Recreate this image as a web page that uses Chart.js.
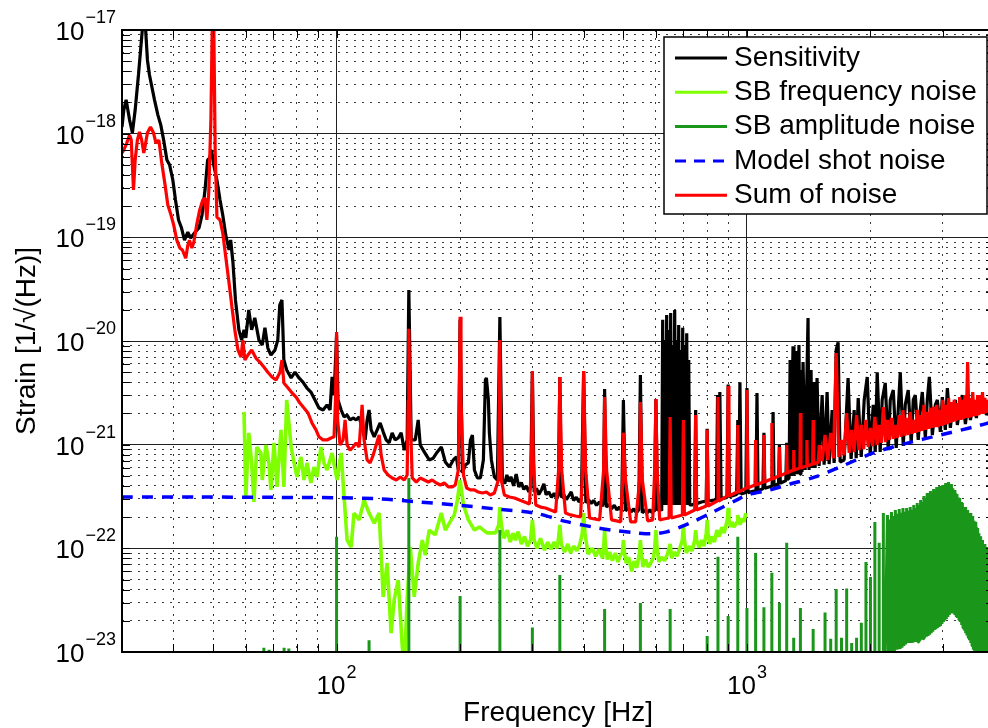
<!DOCTYPE html>
<html><head><meta charset="utf-8">
<script src="https://cdn.jsdelivr.net/npm/chart.js@4.4.1/dist/chart.umd.min.js"></script>
<style>
html,body{margin:0;padding:0;background:#fff;overflow:hidden;width:988px;height:728px}
#wrap{position:relative;width:1000px;height:728px}
canvas{display:block}
</style></head>
<body><div id="wrap"><canvas id="c" width="1000" height="728"></canvas></div>
<script>
const FONT = '"Liberation Sans", Arial, Helvetica, sans-serif';

// ---------- series names / colours ----------
const seriesNames = ['Sensitivity', 'SB frequency noise', 'SB amplitude noise', 'Model shot noise', 'Sum of noise'];
const seriesColors = ['#000000', '#80ff00', '#1a961a', '#0000ff', '#ff0000'];

// ---------- axis ticks ----------
const xGridValues = [30,40,50,60,70,80,90,100,200,300,400,500,600,700,800,900,1000,2000,3000,4000];
const yGridValues = [1e-23,2e-23,3e-23,4e-23,5e-23,6e-23,7e-23,8e-23,9e-23,
  1e-22,2e-22,3e-22,4e-22,5e-22,6e-22,7e-22,8e-22,9e-22,
  1e-21,2e-21,3e-21,4e-21,5e-21,6e-21,7e-21,8e-21,9e-21,
  1e-20,2e-20,3e-20,4e-20,5e-20,6e-20,7e-20,8e-20,9e-20,
  1e-19,2e-19,3e-19,4e-19,5e-19,6e-19,7e-19,8e-19,9e-19,
  1e-18,2e-18,3e-18,4e-18,5e-18,6e-18,7e-18,8e-18,9e-18,1e-17];
const xLabelValues = [100, 1000];
const xLabelExponents = ['2', '3'];
const yLabelValues = [1e-17, 1e-18, 1e-19, 1e-20, 1e-21, 1e-22, 1e-23];
const yLabelExponents = ['\u221217', '\u221218', '\u221219', '\u221220', '\u221221', '\u221222', '\u221223'];

// ---------- data: [frequency Hz, strain 1/sqrt(Hz)] ----------
const sensitivity = [
[30,1.16e-18],[30.3,1.69e-18],[30.7,2.12e-18],[31.3,1.36e-18],[31.8,1.02e-18],[32.3,1.69e-18],[32.9,3.68e-18],[33.3,6.4e-18],[33.7,1.12e-17],[34.2,1.12e-17],[34.6,5.14e-18],[35,3.68e-18],[35.4,2.95e-18],[36,2.12e-18],[36.7,1.51e-18],[37.3,1.21e-18],[37.9,8.67e-19],[38.6,5.57e-19],[39.2,4.98e-19],[39.9,3.57e-19],[40.5,2.29e-19],[41.2,1.47e-19],[41.9,1.23e-19],[42.6,9.4e-20],[43.4,1.12e-19],[44.1,9.85e-20],[45.2,1.12e-19],[46.2,1.23e-19],[47,1.64e-19],[47.8,2.86e-19],[48.5,5.57e-19],[49.1,5.82e-19],[49.6,6.95e-19],[50.2,4.98e-19],[51.1,3.57e-19],[52,2.29e-19],[52.8,1.64e-19],[53.7,1.05e-19],[54.7,7.55e-20],[55.2,9.42e-20],[55.9,5.78e-20],[56.7,2.49e-20],[57.8,1.28e-20],[58.7,1.02e-20],[59.5,1.28e-20],[60.1,1.07e-20],[61.1,1.99e-20],[62.1,1.28e-20],[63.2,1.67e-20],[64.7,1.02e-20],[65.9,9.15e-21],[66.9,1.34e-20],[68,8.55e-21],[69.2,7.32e-21],[70.8,8.2e-21],[71.9,1.02e-20],[72.7,2.22e-20],[73.6,2.49e-20],[74.4,6.55e-21],[75.6,5.25e-21],[77.5,4.4e-21],[79.2,5e-21],[81,4.4e-21],[82.8,4.02e-21],[84.7,3.52e-21],[86.6,3.22e-21],[88.6,2.7e-21],[90.6,2.26e-21],[92.7,2.16e-21],[94.8,2.42e-21],[96.4,2.16e-21],[97.5,4.5e-21],[98.6,3e-21],[100,1.14e-20],[100.8,2.7e-21],[102.6,2.16e-21],[104.3,1.85e-21],[106.1,1.93e-21],[107.9,1.73e-21],[109.7,1.81e-21],[111.6,1.73e-21],[113.5,1.85e-21],[115.4,1.45e-21],[117.4,1.11e-21],[118.7,1.73e-21],[120,2.16e-21],[121.4,1.39e-21],[123.5,1.19e-21],[125.6,1.39e-21],[127.7,1.62e-21],[129.9,1.33e-21],[132.1,1.11e-21],[134.3,1.04e-21],[136.6,1.3e-21],[138.9,1.11e-21],[141.3,1.16e-21],[143.7,1.3e-21],[146.2,8.86e-22],[148.6,1.11e-21],[150,3.1e-20],[152,1.11e-21],[155.5,1.11e-21],[158.1,1.73e-21],[159.9,9.93e-22],[162.6,8.86e-22],[165.4,7.93e-22],[168.2,7.12e-22],[172,7.4e-22],[176,8.5e-22],[180,9.5e-22],[184.1,6.81e-22],[188.3,6.09e-22],[192.5,7.12e-22],[195.9,7.61e-22],[198,5.7e-22],[200,1.6e-20],[202.6,5.33e-22],[206,6.4e-22],[209.5,6.66e-22],[212,1.11e-21],[214.3,1.24e-21],[216.7,5.7e-22],[220.4,4.77e-22],[224.1,4.77e-22],[227.9,7.12e-22],[230.5,4.21e-21],[231.8,4.4e-21],[234.4,2.7e-21],[235.7,1.3e-21],[238.4,7.12e-22],[242.4,4.88e-22],[246.5,4.56e-22],[250,1.7e-20],
[253.5,4.56e-22],[257,4.2e-22],[260,5.1e-22],[263,4.4e-22],[266,4.9e-22],[270,4e-22],[274,5.2e-22],[278,3.9e-22],[282,4.3e-22],[286,3.7e-22],[290,4e-22],[294,3.5e-22],[297,3.9e-22],[300,5e-21],[303,3.5e-22],[307,3.8e-22],[311,3.3e-22],[316,3.7e-22],[320,4.2e-22],[324,3.3e-22],[329,3.5e-22],[334,3.1e-22],[339,3.4e-22],[344,3e-22],[347,3.3e-22],[350,4.5e-21],[353,3.1e-22],[358,3.3e-22],[363,2.95e-22],[368,3.2e-22],[373,3.5e-22],[378,2.9e-22],[384,3.1e-22],[390,2.8e-22],[395,3e-22],[400,5.14e-21],[405,2.75e-22],[411,2.95e-22],[417,2.7e-22],[423,2.9e-22],[430,2.6e-22],[437,2.8e-22],[444,2.55e-22],[447,2.75e-22],[450,3.45e-21],[454,2.5e-22],[461,2.65e-22],[468,2.4e-22],[475,2.6e-22],[482,2.35e-22],[489,2.5e-22],[495,2.3e-22],[500,2.7e-21],[506,2.3e-22],[514,2.45e-22],[522,2.25e-22],[530,2.4e-22],[538,2.2e-22],[545,2.35e-22],[550,4.7e-21],[556,2.2e-22],[564,2.35e-22],[572,2.2e-22],[580,2.35e-22],[588,2.2e-22],[595,2.35e-22],[600,2.76e-21],[606,2.3e-22],[613,2.45e-22],[619.8,2.3e-22],
[623.3,1.6e-20],[626.8,2.62e-22],[630.3,1.02e-20],[633.9,2.62e-22],[637.4,1.78e-20],[641,2.62e-22],[644.6,1.28e-20],[648.2,2.62e-22],[651.9,1.86e-20],[655.6,2.62e-22],[659.3,9.15e-21],[663,2.62e-22],[666.7,1.99e-20],[670.5,2.62e-22],[674.3,1.02e-20],[678.1,2.62e-22],[681.9,1.43e-20],[685.7,2.62e-22],[689.6,8.2e-21],[693.5,2.62e-22],[697.4,1.34e-20],[701.4,2.62e-22],[705.3,9.15e-21],[709.3,2.62e-22],[713.3,1.19e-20],[717.4,2.62e-22],[721.4,6.55e-21],[725.5,2.62e-22],
[733.7,2.62e-22],[746,2.7e-22],[750,2.16e-21],[754,2.7e-22],[775,2.8e-22],[796,2.86e-22],[800,1.42e-21],[804,2.86e-22],[825,2.9e-22],[843,2.93e-22],[848,3.01e-21],[853,2.96e-22],[859,3.22e-21],[865,3e-22],[894,3.1e-22],[900,3.8e-21],[906,3.15e-22],[944,3.3e-22],[950,1.73e-21],[955,3.3e-22],[961.4,4e-21],[968,3.34e-22],[994,3.45e-22],[1000,3.52e-21],[1006,3.45e-22],[1052,3.6e-22],[1058,3.15e-21],[1064,3.6e-22],[1094,3.75e-22],[1100,1.3e-21],[1106,3.8e-22],[1152,4e-22],[1158,2.07e-21],[1164,4e-22],[1194,4.2e-22],[1200,9.93e-22],[1206,4.25e-22],[1244,4.5e-22],[1250,1.04e-21],[1256,4.6e-22],[1267,4.77e-22],
[1274,6.55e-21],[1281,5e-22],[1295,8.9e-21],[1302,5e-22],[1317,8e-21],[1324,5.2e-22],[1339,9.15e-21],[1347,5.2e-22],[1354,5.25e-21],[1362,5.45e-22],[1370,6.27e-21],[1386,5.7e-22],[1409,1.67e-20],[1417,5.7e-22],[1433,5.25e-21],[1441,5.96e-22],[1457,4.02e-21],[1466,5.96e-22],[1482,4.4e-21],[1499,6.23e-22],[1525,3.01e-21],[1542,6.4e-22],[1568,3.22e-21],[1586,6.5e-22],[1613,2.16e-21],[1631,6.66e-22],[1650,8.2e-21],[1668,9.7e-21],[1687,6.81e-22],[1725,7.12e-22],[1764,4.4e-21],[1794,7.3e-22],[1825,2.16e-21],[1846,7.4e-22],[1867,2.82e-21],[1899,7.6e-22],[1931,2.7e-21],[1964,4.5e-21],[1997,7.93e-22],[2031,2.42e-21],[2054,8.5e-22],[2077,5e-21],[2112,8.5e-22],[2136,2.7e-21],[2173,3.94e-21],[2210,8.86e-22],[2235,2.7e-21],[2273,3.37e-21],[2311,9.3e-22],[2337,2.16e-21],[2364,5e-21],[2404,9.7e-22],[2431,2.42e-21],[2472,3.37e-21],[2514,1.04e-21],[2543,2.7e-21],[2572,3.01e-21],[2615,1.11e-21],[2645,2.16e-21],[2675,3.22e-21],[2721,1.16e-21],[2751,2.7e-21],[2783,4.5e-21],[2830,1.24e-21],[2878,2.42e-21],[2911,2.7e-21],[2960,1.33e-21],[2993,2.88e-21],[3044,1.39e-21],[3079,3.52e-21],[3131,1.45e-21],[3166,2.16e-21],[3220,2.7e-21],[3256,1.55e-21],[3312,2.42e-21],[3349,3.01e-21],[3407,1.58e-21],[3465,2.7e-21],[3504,1.73e-21],[3564,2.52e-21],[3624,1.81e-21],[3665,2.7e-21],[3707,2.07e-21],[3770,2.82e-21],[3834,1.93e-21],[3921,2.42e-21],[4030,2.07e-21]
];

const sbFrequencyNoise = [
[59.5,2.07e-21],[60.1,3.13e-22],[61.1,1.3e-21],[62.1,6.66e-22],[62.9,2.8e-22],[63.9,9.5e-22],[65.4,8.32e-22],[65.9,4.56e-22],[67.3,9.93e-22],[68.4,6.66e-22],[69.2,3.66e-22],[70.4,1.04e-21],[71.6,3.91e-22],[73.2,1.39e-21],[74.4,3.91e-22],[75.6,2.7e-21],[77.5,9.5e-22],[78.8,6.66e-22],[80.1,4.88e-22],[81.9,7.61e-22],[83.3,4.56e-22],[84.7,6.66e-22],[86.6,4.27e-22],[88.1,6.09e-22],[89.6,4.88e-22],[91.6,9.5e-22],[93.2,6.66e-22],[94.8,5.7e-22],[97.5,8.32e-22],[99.2,5.7e-22],[100.3,4.56e-22],[102.6,8.32e-22],[104.3,3.13e-22],[106.1,1.2e-22],[108.5,1.03e-22],[110.3,2.19e-22],[113.5,1.88e-22],[116.7,2.92e-22],[120,2.19e-22],[123.5,1.75e-22],[127,2.19e-22],[129.9,3.4e-23],[132.8,7.22e-23],[135.8,1.52e-23],[138.2,3.2e-23],[141.3,4.95e-23],[144.5,1.17e-23],[146.2,6.7e-24],[148.6,3.2e-23],[151.2,1.03e-22],[154.6,3.4e-23],[158.1,7.22e-23],[161.8,1.2e-22],[164.5,8.6e-23],[168.2,1.5e-22],[174,1.35e-22],[180,2.19e-22],[184.1,1.5e-22],[188.3,1.75e-22],[193.6,2.1e-22],[197,2.92e-22],[200,4.56e-22],[203.8,2.62e-22],[209.5,1.88e-22],[216.7,1.5e-22],[222.8,1.61e-22],[232.5,1.41e-22],[244,1.41e-22],[248.4,1.68e-22],[250,2.5e-22],
[252,1.68e-22],[256,1.25e-22],[260.6,1.5e-22],[265,1.15e-22],[269,1.4e-22],[272.9,1.2e-22],[277,1.45e-22],[282,1.1e-22],[287.1,1.3e-22],[292,1.05e-22],[297,1.2e-22],[300,1.88e-22],[303,1.2e-22],[308,1e-22],[314,1.25e-22],[321.2,9.6e-23],[327,1.15e-22],[333,9.8e-23],[339,1.15e-22],[344,1e-22],[347,1.2e-22],[350,1.68e-22],[353,1.1e-22],[359.4,9.2e-23],[366,1.1e-22],[372,9e-23],[378.1,1.05e-22],[385,9.5e-23],[391,1.07e-22],[397,1.4e-22],[400,2.19e-22],[403,1.4e-22],[410,8.8e-23],[419.8,1e-22],[428,8.4e-23],[436,9.8e-23],[445,8e-23],[448,1.1e-22],[450,1.5e-22],[452,1.1e-22],[457,7.8e-23],[463,9.2e-23],[470,7.6e-23],[478,9e-23],[485,7.4e-23],[492,8.6e-23],[497,9e-23],[500,1.2e-22],[503,9e-23],[508,7.2e-23],[515,8.2e-23],[523.7,6e-23],[531,7.5e-23],[538.9,6.5e-23],[544,8e-23],[547,9e-23],[550,1.2e-22],[553,9e-23],[558,6.6e-23],[566,7.8e-23],[575,6.6e-23],[586,7.5e-23],[592,8.2e-23],[596,1e-22],[600,1.5e-22],[604,1e-22],[610,7.4e-23],[619.8,8.2e-23],
[630,7.6e-23],[640,8.8e-23],[650,1.1e-22],[655.6,8e-23],[665,9.2e-23],[675,8.4e-23],[686.1,1e-22],[696,1.2e-22],[700,1.68e-22],[704,1.2e-22],[712,9e-23],[725.7,1.05e-22],[735,9.4e-23],[746,1.2e-22],[750,1.5e-22],[754,1.2e-22],[765,1.02e-22],[776,1.2e-22],[786,1.05e-22],[796,1.4e-22],[800,1.88e-22],[804,1.4e-22],[812,1.1e-22],[821,1.3e-22],[833,1.15e-22],[844.7,1.5e-22],[856,1.3e-22],[868.7,1.6e-22],[880,1.4e-22],[896,1.9e-22],[900,2.45e-22],[904,1.9e-22],[912,1.6e-22],[919,1.8e-22],[930,1.6e-22],[946,1.8e-22],[950,2.1e-22],[954,1.8e-22],[963,1.7e-22],[972,1.95e-22],[983,1.8e-22],[994,2.19e-22]
];

// isolated amplitude-noise lines: [frequency, peak]
const sbAmplitudeLines = [
[66.5,1.1e-23],[68.5,1.05e-23],[74.5,1.1e-23],[76.5,1.08e-23],[100,1.29e-22],[120,1.3e-23],[150,4.77e-22],[200,3.47e-23],[250,1.5e-22],[300,1.72e-23],[350,5.53e-23],[450,2.6e-23],[550,2.97e-23],[650,2.6e-23],[800,1.43e-23],[850,8.3e-23],[900,2.22e-23],[950,1.29e-22],[1000,2.66e-23],[1050,9e-23],[1100,2.7e-23],[1150,5.8e-23],[1200,2.97e-23],[1250,1.13e-22],[1300,1.37e-23],[1350,2.66e-23],[1450,1.67e-23],[1550,2.4e-23],[1600,1.34e-23],[1650,4.05e-23],[1700,1.37e-23],[1750,4.1e-23],[1800,1.22e-23],[1850,1.37e-23],[1900,1.91e-23],[1950,7.4e-23],[2000,5.3e-23],[2050,1.79e-22],[2100,1.13e-22],[2150,2.19e-22]
];
// dense amplitude-noise comb above 2.2 kHz: alternating peak / trough
const sbAmplitudeComb = [
[2200,2.1e-22],[2212,8e-24],[2225,1.9e-22],[2237,8.5e-24],[2250,2.24e-22],[2262,9e-24],[2275,2.05e-22],[2287,1e-23],[2300,2.34e-22],[2312,1.05e-23],[2325,2.15e-22],[2337,1.06e-23],[2350,2.4e-22],[2362,1.07e-23],[2375,2.2e-22],[2387,1.1e-23],[2400,2.45e-22],[2412,1.14e-23],[2425,2.25e-22],[2437,1.18e-23],[2450,2.45e-22],[2462,1.22e-23],[2475,2.3e-22],[2487,1.22e-23],[2500,2.51e-22],[2512,1.22e-23],[2525,2.35e-22],[2537,1.23e-23],[2550,2.62e-22],[2562,1.25e-23],[2575,2.45e-22],[2587,1.25e-23],[2600,2.74e-22],[2612,1.25e-23],[2625,2.6e-22],[2637,1.28e-23],[2650,2.93e-22],[2662,1.31e-23],[2675,2.8e-22],[2687,1.34e-23],[2700,3.2e-22],[2712,1.37e-23],[2725,3.05e-22],[2737,1.4e-23],[2750,3.42e-22],[2762,1.43e-23],[2775,3.25e-22],[2787,1.47e-23],[2800,3.58e-22],[2812,1.52e-23],[2825,3.4e-22],[2837,1.57e-23],[2850,3.74e-22],[2862,1.63e-23],[2875,3.55e-22],[2887,1.66e-23],[2900,3.91e-22],[2912,1.7e-23],[2925,3.7e-22],[2937,1.74e-23],[2950,3.99e-22],[2962,1.78e-23],[2975,3.8e-22],[2987,1.86e-23],[3000,4.08e-22],[3012,1.95e-23],[3025,3.95e-22],[3037,2.01e-23],[3050,4.27e-22],[3062,2.08e-23],[3075,4.05e-22],[3087,2.17e-23],[3100,4.36e-22],[3112,2.27e-23],[3125,4.1e-22],[3137,2.35e-23],[3150,4.17e-22],[3162,2.43e-23],[3175,3.8e-22],[3187,2.35e-23],[3200,3.66e-22],[3212,2.27e-23],[3225,3.4e-22],[3237,2.2e-23],[3250,3.34e-22],[3262,2.13e-23],[3275,3.1e-22],[3287,2.04e-23],[3300,3.06e-22],[3312,1.95e-23],[3325,2.8e-22],[3337,1.82e-23],[3350,2.74e-22],[3362,1.7e-23],[3375,2.5e-22],[3387,1.61e-23],[3400,2.51e-22],[3412,1.52e-23],[3425,2.3e-22],[3437,1.44e-23],[3450,2.34e-22],[3462,1.37e-23],[3475,2.15e-22],[3487,1.3e-23],[3500,2.19e-22],[3512,1.22e-23],[3525,2e-22],[3537,1.14e-23],[3550,2.05e-22],[3562,1.07e-23],[3575,1.85e-22],[3587,1e-23],[3600,1.8e-22],[3612,9.3e-24],[3625,1.6e-22],[3637,8.4e-24],[3650,1.57e-22],[3662,7.5e-24],[3675,1.4e-22],[3687,7e-24],[3700,1.31e-22],[3712,6.7e-24],[3725,1.2e-22],[3737,6.7e-24],[3750,1.2e-22],[3762,6.7e-24],[3775,1.1e-22],[3787,6.7e-24],[3800,1.1e-22],[3812,6.7e-24],[3825,1.02e-22],[3837,6.7e-24],[3850,1.03e-22],[3862,6.7e-24],[3875,9.6e-23],[3887,6.7e-24],[3900,9.64e-23],[3912,6.7e-24],[3925,9.2e-23],[3937,6.7e-24],[3950,9.2e-23],[3962,6.7e-24],[3975,8.8e-23],[3987,6.7e-24],[4000,9e-23]
];
const amplitudeLineFoot = 1e-24; // line foot, below the visible axis range

const modelShotNoise = [
[30,3.13e-22],[46,3.13e-22],[72,3.1e-22],[100,3.08e-22],[127,3e-22],[158,2.8e-22],[196,2.62e-22],[244,2.4e-22],[304,2.19e-22],[361,1.82e-22],[420,1.61e-22],[468,1.5e-22],[536,1.41e-22],[586,1.38e-22],[637,1.44e-22],[726,1.75e-22],[826,2.24e-22],[945,2.93e-22],[1000,3.27e-22],[1138,3.66e-22],[1274,4.17e-22],[1466,4.88e-22],[1687,6.09e-22],[2031,8.32e-22],[2472,1.04e-21],[2960,1.24e-21],[3564,1.48e-21],[4030,1.69e-21]
];

const sumOfNoise = [
[30,6.5e-19],[30.3,6.95e-19],[30.8,8.1e-19],[31.3,9.7e-19],[31.6,8.67e-19],[32,2.86e-19],[32.3,5.57e-19],[32.7,8.67e-19],[33.1,1.04e-18],[33.5,8.67e-19],[33.9,6.5e-19],[34.2,7.8e-19],[34.6,1.02e-18],[35.2,1.16e-18],[35.8,1.02e-18],[36.3,8.1e-19],[36.9,8.67e-19],[37.5,5.2e-19],[38.2,3.2e-19],[38.8,2.05e-19],[39.5,1.64e-19],[40.1,1.31e-19],[40.8,9.4e-20],[41.5,7.9e-20],[42.1,7.55e-20],[42.9,6.3e-20],[43.4,8.4e-20],[43.8,9.4e-20],[44.4,7.9e-20],[44.9,9e-20],[45.6,1.31e-19],[46.4,1.84e-19],[47.2,2.29e-19],[47.8,2.39e-19],[48.3,1.47e-19],[48.8,2.68e-19],[49.4,1.36e-18],[49.8,1.25e-17],[50.2,1.25e-17],[50.6,6.95e-19],[51.1,1.57e-19],[52,1.47e-19],[52.8,1.1e-19],[53.7,6.46e-20],[54.7,3.63e-20],[55.6,2.13e-20],[56.5,1.28e-20],[57.5,8.2e-21],[58.5,7e-21],[59.1,1.02e-20],[59.8,6.55e-21],[60.8,7.32e-21],[62.1,8.2e-21],[63.6,6.85e-21],[65,6.27e-21],[66.5,5.61e-21],[68,5e-21],[69.6,4.5e-21],[71.2,4.21e-21],[72.8,5e-21],[73.6,6.55e-21],[74.4,3.94e-21],[76.2,3.52e-21],[77.9,3.15e-21],[79.7,2.88e-21],[81.4,2.52e-21],[83.3,2.26e-21],[85.2,2.02e-21],[87.1,1.62e-21],[89.1,1.39e-21],[90.6,1.19e-21],[92.7,1.11e-21],[94.8,1.11e-21],[96.9,1.16e-21],[98.6,1.19e-21],[99.4,2.7e-21],[100,1.22e-20],[100.6,1.73e-21],[102,9.93e-22],[103.7,1.11e-21],[104.9,1.73e-21],[106.1,9.93e-22],[107.9,8.86e-22],[109.7,9.5e-22],[111.6,1.04e-21],[113.5,9.5e-22],[115.4,2.42e-21],[116.7,1.11e-21],[118.7,7.12e-22],[120.7,6.66e-22],[122.8,7.93e-22],[124.9,9.93e-22],[127,1.24e-21],[128.4,7.93e-22],[130.6,5.7e-22],[133.5,5.1e-22],[136.6,4.77e-22],[139.8,4.56e-22],[143,4.88e-22],[146.2,4.56e-22],[148.6,5.1e-22],[149.5,2.7e-21],[150,1.31e-20],[150.8,2.7e-21],[152.9,4.77e-22],[156.4,4.36e-22],[159.9,4.77e-22],[163.6,4.56e-22],[167.3,4.36e-22],[171,4.56e-22],[175,4.27e-22],[179,4.08e-22],[183,4.27e-22],[187.2,3.91e-22],[191.5,3.91e-22],[194.7,4.08e-22],[198,5.7e-22],[199.2,2.7e-21],[200,1.71e-20],[201,2.7e-21],[203.8,5.1e-22],[207.4,3.82e-22],[211.9,3.66e-22],[216.7,3.66e-22],[221.5,3.49e-22],[226.6,3.42e-22],[231.8,3.49e-22],[237,3.27e-22],[242.4,3.42e-22],[247.9,4.56e-22],[250,1.02e-20],[252,4.56e-22],[256.4,3.27e-22],[263.8,3.13e-22],[271.4,3.06e-22],[279.1,2.92e-22],[287.1,2.8e-22],[295.3,2.68e-22],[298.6,7.12e-22],[300,5.14e-21],[301.5,7.12e-22],[305.8,2.62e-22],[314.1,2.5e-22],[323,2.45e-22],[332.3,2.34e-22],[341.8,2.24e-22],[347.6,5.7e-22],[350,4.5e-21],[353.6,5.7e-22],[361.3,2.19e-22],[371.7,2.1e-22],[382.3,2.05e-22],[393.2,2.01e-22],[397.6,5.7e-22],[400,5.14e-21],[404.5,5.7e-22],[413.6,1.96e-22],[425.4,1.92e-22],[437.5,1.88e-22],[447.5,5.7e-22],[450,2.88e-21],[455,5.7e-22],[467.8,1.88e-22],[481.4,1.84e-22],[492.4,1.8e-22],[498,4.56e-22],[500,1.3e-21],[506,4.56e-22],[520.7,1.8e-22],[535.6,1.8e-22],[547.7,4.56e-22],[550,2.58e-21],[556,4.56e-22],[572.9,1.84e-22],[589.3,1.88e-22],[596,5.7e-22],[600,2.76e-21],[604,5.7e-22],[612.9,1.88e-22],[626.8,1.92e-22],[644.6,1.96e-22],
[646,1.96e-22],[650,1.85e-21],[654,1.96e-22],[696,2.1e-22],[700,1.73e-21],[704,2.1e-22],[746,2.34e-22],[750,1.93e-21],[754,2.34e-22],[796,2.56e-22],[800,1.39e-21],[804,2.56e-22],[846,2.86e-22],[850,2.88e-21],[854,2.86e-22],[896,3.2e-22],[900,3.68e-21],[904,3.2e-22],[946,3.49e-22],[950,1.55e-21],[954,3.49e-22],[996,3.82e-22],[1000,3.37e-21],[1004,3.82e-22],[1046,4.08e-22],[1050,1.11e-21],[1054,4.08e-22],[1096,4.36e-22],[1100,1.24e-21],[1104,4.36e-22],[1146,4.66e-22],[1150,1.62e-21],[1154,4.66e-22],[1196,5e-22],[1200,9.5e-22],[1204,5e-22],[1246,5.33e-22],[1250,9.93e-22],[1254,5.33e-22],[1296,5.7e-22],[1300,8.86e-22],[1304,5.7e-22],[1346,5.96e-22],[1350,2.02e-21],[1354,5.96e-22],[1396,6.23e-22],[1400,1.11e-21],[1404,6.23e-22],[1446,6.5e-22],[1450,1.73e-21],[1454,6.5e-22],[1496,6.81e-22],[1500,9.93e-22],[1525,6.95e-22],
[1550,1.24e-21],[1575,7.12e-22],[1600,1.3e-21],[1625,7.4e-22],[1650,7.66e-21],[1675,7.61e-22],[1700,1.11e-21],[1725,7.93e-22],[1750,2.02e-21],[1775,8.32e-22],[1800,1.39e-21],[1825,8.5e-22],[1850,1.93e-21],[1875,8.86e-22],[1900,1.55e-21],[1925,9.07e-22],[1950,1.73e-21],[1975,9.5e-22],[2000,1.45e-21],[2025,9.7e-22],[2050,1.85e-21],[2075,9.93e-22],[2100,1.55e-21],[2125,1.04e-21],[2150,2.31e-21],[2175,1.06e-21],[2200,1.73e-21],[2225,1.11e-21],[2250,1.81e-21],[2275,1.14e-21],[2300,1.55e-21],[2325,1.16e-21],[2350,1.93e-21],[2375,1.19e-21],[2400,2.16e-21],[2425,1.22e-21],[2450,1.81e-21],[2475,1.24e-21],[2500,2.07e-21],[2525,1.27e-21],[2550,1.73e-21],[2575,1.3e-21],[2600,2.16e-21],[2625,1.33e-21],[2650,1.93e-21],[2675,1.36e-21],[2700,2.42e-21],[2725,1.39e-21],[2750,2.07e-21],[2775,1.42e-21],[2800,2.26e-21],[2825,1.45e-21],[2850,2.31e-21],[2875,1.48e-21],[2900,2.42e-21],[2925,1.48e-21],[2950,2.16e-21],[2975,1.52e-21],[3000,2.7e-21],[3025,1.55e-21],[3050,2.42e-21],[3075,1.58e-21],[3100,2.82e-21],[3125,1.62e-21],[3150,2.58e-21],[3175,1.66e-21],[3200,2.7e-21],[3225,1.69e-21],[3250,2.52e-21],[3275,1.73e-21],[3300,2.88e-21],[3325,1.73e-21],[3350,2.7e-21],[3375,1.77e-21],[3400,3.01e-21],[3425,1.81e-21],[3450,6.27e-21],[3475,1.81e-21],[3500,2.82e-21],[3525,1.85e-21],[3550,3.22e-21],[3575,1.89e-21],[3600,2.7e-21],[3625,1.89e-21],[3650,3.01e-21],[3675,1.93e-21],[3700,3.01e-21],[3725,1.98e-21],[3750,3.22e-21],[3775,1.98e-21],[3800,2.82e-21],[3825,2.02e-21],[3850,2.7e-21],[3875,2.07e-21],[3900,2.82e-21],[3925,2.07e-21],[3950,2.94e-21],[3975,2.12e-21],[4000,3.01e-21]
];

// ---------- build tables for Chart.js ----------
const toXY = arr => arr.map(([f, v]) => ({x: f, y: v}));
const amplitudeData = [];
sbAmplitudeLines.forEach(([f, v]) => {
  amplitudeData.push({x: f, y: amplitudeLineFoot}, {x: f, y: v}, {x: f, y: amplitudeLineFoot});
});
sbAmplitudeComb.forEach(([f, v]) => amplitudeData.push({x: f, y: v}));

const isDecade = v => Math.abs(Math.log10(v) - Math.round(Math.log10(v))) < 1e-6;

const LEGEND_DASH = [[], [], [], [11, 8], []];

const decorPlugin = {
  id: 'decor',
  afterDatasetsDraw(chart) {
    const {ctx, chartArea: a, scales: {x, y}} = chart;
    ctx.save();
    ctx.strokeStyle = '#000';
    ctx.lineWidth = 1;
    ctx.beginPath();
    xGridValues.forEach(v => {
      const px = Math.round(x.getPixelForValue(v)) + 0.5;
      ctx.moveTo(px, a.bottom); ctx.lineTo(px, a.bottom - 8);
      ctx.moveTo(px, a.top); ctx.lineTo(px, a.top + 8);
    });
    yGridValues.forEach(v => {
      const py = Math.round(y.getPixelForValue(v)) + 0.5;
      ctx.moveTo(a.left, py); ctx.lineTo(a.left + 8, py);
      ctx.moveTo(a.right, py); ctx.lineTo(a.right - 8, py);
    });
    ctx.stroke();
    ctx.lineWidth = 2;
    ctx.strokeRect(a.left, a.top, a.right - a.left, a.bottom - a.top);
    ctx.restore();
  },
  afterDraw(chart) {
    const {ctx, chartArea: a, scales: {x, y}} = chart;
    const baseFont = '26px ' + FONT, supFont = '18px ' + FONT;
    ctx.save();
    ctx.fillStyle = '#000';
    ctx.textBaseline = 'alphabetic';
    ctx.textAlign = 'left';
    yLabelValues.forEach((v, i) => {
      const py = y.getPixelForValue(v);
      ctx.font = supFont; const ws = ctx.measureText(yLabelExponents[i]).width;
      ctx.font = baseFont; const wb = ctx.measureText('10').width;
      const right = a.left - 6;
      ctx.font = baseFont; ctx.fillText('10', right - ws - wb - 1, py + 10);
      ctx.font = supFont; ctx.fillText(yLabelExponents[i], right - ws, py - 7);
    });
    xLabelValues.forEach((v, i) => {
      const px = x.getPixelForValue(v);
      ctx.font = supFont; const ws = ctx.measureText(xLabelExponents[i]).width;
      ctx.font = baseFont; const wb = ctx.measureText('10').width;
      const start = px - (wb + ws + 1) / 2;
      ctx.font = baseFont; ctx.fillText('10', start, a.bottom + 42);
      ctx.font = supFont; ctx.fillText(xLabelExponents[i], start + wb + 1, a.bottom + 26);
    });
    const bw = 323, bh = 177;
    const bx = a.right - 7 - bw, by = a.top + 7;
    ctx.fillStyle = '#fff';
    ctx.fillRect(bx, by, bw, bh);
    ctx.strokeStyle = '#000';
    ctx.lineWidth = 1.5;
    ctx.strokeRect(bx, by, bw, bh);
    ctx.font = '28px ' + FONT;
    ctx.textBaseline = 'middle';
    chart.data.datasets.forEach((ds, i) => {
      const cy = by + 21 + i * 34.3;
      ctx.save();
      ctx.strokeStyle = ds.borderColor;
      ctx.lineWidth = 3;
      ctx.setLineDash(LEGEND_DASH[i]);
      ctx.beginPath(); ctx.moveTo(bx + 11, cy); ctx.lineTo(bx + 63, cy); ctx.stroke();
      ctx.restore();
      ctx.fillStyle = '#000';
      ctx.fillText(ds.label, bx + 70, cy);
    });
    ctx.restore();
  }
};

const lineDefaults = {pointRadius: 0, fill: false, tension: 0, borderJoinStyle: 'bevel', borderCapStyle: 'butt'};

new Chart(document.getElementById('c'), {
  type: 'line',
  data: {
    datasets: [
      Object.assign({label: seriesNames[0], data: toXY(sensitivity), borderColor: seriesColors[0], borderWidth: 3.2, order: 4}, lineDefaults),
      Object.assign({label: seriesNames[1], data: toXY(sbFrequencyNoise), borderColor: seriesColors[1], borderWidth: 3.6, order: 3}, lineDefaults),
      Object.assign({label: seriesNames[2], data: amplitudeData, borderColor: seriesColors[2], borderWidth: 3, order: 2}, lineDefaults),
      Object.assign({label: seriesNames[3], data: toXY(modelShotNoise), borderColor: seriesColors[3], borderWidth: 3.5, borderDash: [11, 9], order: 1}, lineDefaults, {tension: 0.3}),
      Object.assign({label: seriesNames[4], data: toXY(sumOfNoise), borderColor: seriesColors[4], borderWidth: 3.2, order: 0}, lineDefaults)
    ]
  },
  options: {
    responsive: false,
    animation: false,
    devicePixelRatio: 1,
    events: [],
    layout: {padding: {left: 0, top: 30, right: 6, bottom: 0}},
    plugins: {legend: {display: false}, tooltip: {enabled: false}},
    scales: {
      x: {
        type: 'logarithmic', position: 'bottom', min: 30, max: 4000,
        afterBuildTicks: axis => { axis.ticks = xGridValues.map(v => ({value: v})); },
        afterFit: axis => { axis.height = 76; },
        ticks: {display: false},
        grid: {drawTicks: false, lineWidth: 1, color: c => (c.tick && isDecade(c.tick.value)) ? '#202020' : '#3a3a3a'},
        border: {display: false, dash: c => (c.tick && !isDecade(c.tick.value)) ? [2, 6] : []},
        title: {display: true, text: 'Frequency [Hz]', color: '#000', font: {family: FONT, size: 28, lineHeight: 1}, padding: {top: 0, bottom: 1}}
      },
      y: {
        type: 'logarithmic', position: 'left', min: 1e-23, max: 1e-17,
        afterBuildTicks: axis => { axis.ticks = yGridValues.map(v => ({value: v})); },
        afterFit: axis => { axis.width = 122; },
        ticks: {display: false},
        grid: {drawTicks: false, lineWidth: 1, color: c => (c.tick && isDecade(c.tick.value)) ? '#202020' : '#3a3a3a'},
        border: {display: false, dash: c => (c.tick && !isDecade(c.tick.value)) ? [2, 6] : []},
        title: {display: true, text: 'Strain [1/\u221A(Hz)]', color: '#000', font: {family: FONT, size: 28, lineHeight: 1}, padding: {top: 13, bottom: 0}}
      }
    }
  },
  plugins: [decorPlugin]
});
</script>
</body></html>
